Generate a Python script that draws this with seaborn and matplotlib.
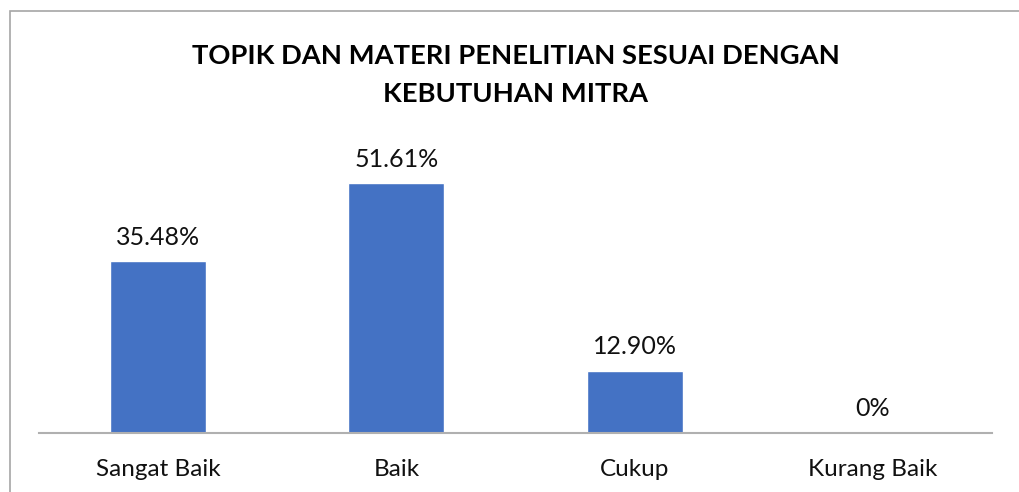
import matplotlib
matplotlib.use("Agg")
import matplotlib.pyplot as plt
import seaborn as sns
import pandas as pd
from matplotlib.patches import Rectangle

categories = ["Sangat Baik", "Baik", "Cukup", "Kurang Baik"]
values = [35.48, 51.61, 12.90, 0.0]
value_labels = ["35.48%", "51.61%", "12.90%", "0%"]
title = "TOPIK DAN MATERI PENELITIAN SESUAI DENGAN\nKEBUTUHAN MITRA"

sns.set_style("white")
plt.rcParams["font.family"] = ["Lato", "DejaVu Sans"]

df = pd.DataFrame({"kategori": categories, "persen": values})

fig = plt.figure(figsize=(10.19, 4.92), dpi=100)
ax = fig.add_axes([39 / 1019, 59 / 492, 953 / 1019, 290.6 / 492])

sns.barplot(data=df, x="kategori", y="persen", color="#4472C4", width=0.403,
            saturation=1, ax=ax)

ax.set_ylim(0, 60)
ax.set_xlim(-0.5, len(categories) - 0.5)
ax.set_yticks([])
ax.set_xlabel("")
ax.set_ylabel("")
for side in ["top", "right", "left"]:
    ax.spines[side].set_visible(False)
ax.spines["bottom"].set_color("#B0B0B0")
ax.spines["bottom"].set_linewidth(1.5)
ax.tick_params(axis="x", length=0, labelsize=17.5, pad=18.5, labelcolor="#111111")

# data labels above bars
for i, (v, lab) in enumerate(zip(values, value_labels)):
    ax.annotate(lab, (i, v), xytext=(0, 9), textcoords="offset points",
                ha="center", va="bottom", fontsize=18, color="#111111")

fig.text(0.506, 1 - 75 / 492, title, ha="center", va="center",
         fontsize=19.7, fontweight="bold", linespacing=1.75, color="black")

# chart border
fig.patches.append(Rectangle((9.5 / 1019, -0.1), 1.2, 1.1 - 10.5 / 492,
                             transform=fig.transFigure, fill=False,
                             edgecolor="#A6A6A6", linewidth=1.2))

fig.savefig("out.png", dpi=100)
